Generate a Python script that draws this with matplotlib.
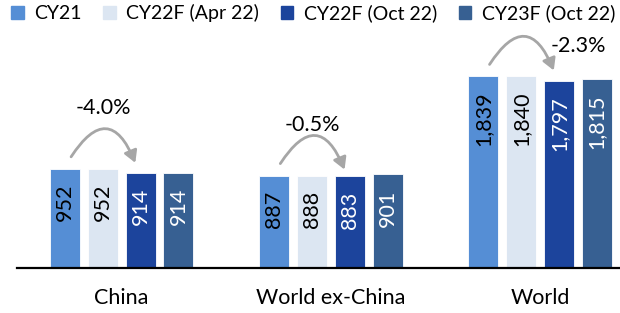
import numpy as np
import matplotlib.pyplot as plt
from matplotlib.patches import FancyArrowPatch, Patch

plt.rcParams['font.family'] = ['Lato', 'DejaVu Sans']

# chart data
categories = ['China', 'World ex-China', 'World']
series_names = ['CY21', 'CY22F (Apr 22)', 'CY22F (Oct 22)', 'CY23F (Oct 22)']
cy21 = [952, 887, 1839]
cy22_apr = [952, 888, 1840]
cy22_oct = [914, 883, 1797]
cy23_oct = [914, 901, 1815]

colors = ['#558ED5', '#DCE6F2', '#1C449C', '#376092']
text_colors = ['black', 'black', 'white', 'white']

FS = 15.5
PX = 9.6  # data units per pixel (approx.)


def main():
    fig = plt.figure(figsize=(6.2, 3.13), dpi=100)
    ax = fig.add_axes([17 / 620, 45 / 313, 603 / 620, 238 / 313])

    series = [cy21, cy22_apr, cy22_oct, cy23_oct]
    x = np.arange(len(categories))
    width = 0.143
    step = 0.181
    offsets = (np.arange(4) - 1.5) * step

    for i, vals in enumerate(series):
        bars = ax.bar(x + offsets[i], vals, width=width, color=colors[i],
                      edgecolor='white', linewidth=0.6)
        for b, v in zip(bars, vals):
            ax.annotate(f'{v:,}', (b.get_x() + b.get_width() / 2, v),
                        xytext=(0, -11), textcoords='offset points',
                        rotation=90, ha='center', va='top',
                        fontsize=FS, color=text_colors[i])

    # curved arrows CY21 -> CY22F (Oct 22) with % change
    label_offsets = [(0.0, 35), (0.0, 28), (0.27, 13)]
    for g in range(len(categories)):
        y0 = cy21[g] + 12 * PX
        x0 = x[g] + offsets[0] + 0.03
        x1 = x[g] + offsets[2] - 0.025
        arr = FancyArrowPatch((x0, y0), (x1, y0 - 6 * PX),
                              connectionstyle='arc3,rad=-0.95',
                              arrowstyle='-|>,head_length=7,head_width=4',
                              color='#A6A6A6', lw=2, shrinkA=0, shrinkB=0)
        ax.add_patch(arr)
        pct = (cy22_oct[g] / cy21[g] - 1) * 100
        dx, dy = label_offsets[g]
        ax.annotate(f'{pct:.1f}%', ((x0 + x1) / 2 + dx, y0),
                    xytext=(0, dy), textcoords='offset points',
                    ha='center', va='center', fontsize=FS)

    ax.set_xlim(-0.5, 2.382)
    ax.set_ylim(0, 238 * PX)
    ax.set_xticks(x)
    ax.set_xticklabels(categories, fontsize=FS)
    ax.tick_params(axis='x', length=0, pad=14.5)
    ax.set_yticks([])
    for s in ['top', 'right', 'left']:
        ax.spines[s].set_visible(False)
    ax.spines['bottom'].set_linewidth(1.6)
    ax.spines['bottom'].set_color('black')

    handles = [Patch(color=c) for c in colors]
    fig.legend(handles, series_names, loc='upper left', ncol=4,
               bbox_to_anchor=(0.005, 1.012), frameon=False, fontsize=14,
               handlelength=0.65, handleheight=0.65, handletextpad=0.55,
               columnspacing=1.1, borderaxespad=0)

    fig.savefig('out.png', dpi=100)


if __name__ == '__main__':
    main()
